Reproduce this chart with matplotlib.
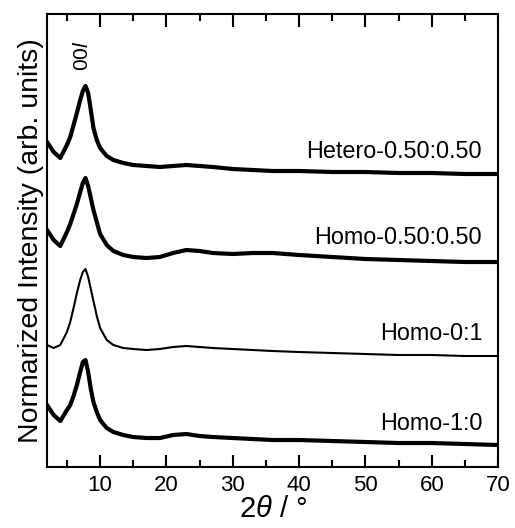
import matplotlib
matplotlib.use("Agg")
import matplotlib.pyplot as plt
from matplotlib.ticker import MultipleLocator

plt.rcParams["font.family"] = ["Liberation Sans", "DejaVu Sans"]
plt.rcParams["mathtext.fontset"] = "custom"
plt.rcParams["mathtext.rm"] = "Liberation Sans"
plt.rcParams["mathtext.it"] = "Liberation Sans:italic"

# 2theta grid (deg) and stacked intensities (arb. units, offsets included)
two_theta = [2, 3, 4, 5, 5.5, 6, 6.5, 7, 7.4, 7.8, 8.2, 8.6, 9, 9.5, 10, 11, 12,
             13.5, 15, 17, 19, 21, 23, 25, 27, 30, 33, 36, 40, 45, 50, 55, 60,
             65, 70]

hetero_050 = [325, 315, 309, 322, 330, 342, 354, 367, 376, 381, 374, 357, 339,
              327, 319, 311, 307, 304, 302, 301, 300, 301, 302, 301, 300, 298,
              297, 296, 296, 295, 295, 294, 294, 293, 293]
homo_050 = [237, 227, 221, 235, 243, 253, 263, 275, 284, 289, 281, 269, 257,
            245, 233, 222, 216, 212, 210, 209, 210, 214, 217, 216, 214, 213,
            214, 214, 212, 210, 208, 207, 206, 205, 205]
homo_01 = [122, 119, 122, 135, 145, 159, 174, 187, 195, 198, 190, 178, 166,
           151, 139, 127, 122, 119, 118, 117, 118, 120, 121, 120, 119, 118,
           117, 116, 115, 114, 113, 112, 112, 111, 111]
homo_10 = [62, 52, 46, 57, 62, 71, 82, 95, 105, 107, 95, 78, 65, 55, 47, 39,
           35, 32, 30, 29, 29, 32, 33, 31, 30, 29, 28, 27, 27, 26, 25, 24, 24,
           23, 22]

labels = ["Hetero-0.50:0.50", "Homo-0.50:0.50", "Homo-0:1", "Homo-1:0"]
series = [hetero_050, homo_050, homo_01, homo_10]
widths = [3.0, 3.0, 1.5, 3.0]
label_y = [315, 230, 134, 44]

fig = plt.figure(figsize=(5.15, 5.28), dpi=100)
ax = fig.add_axes([0.0913, 0.1155, 0.876, 0.858])

for name, ys, lw, ty in zip(labels, series, widths, label_y):
    ax.plot(two_theta, ys, color="black", lw=lw, solid_joinstyle="round")
    ax.text(67.6, ty, name, ha="right", va="center", fontsize=16.8)

ax.text(7.4, 411, "00$\\mathit{l}$", rotation=90, ha="center", va="center",
        fontsize=15)

ax.set_xlim(2, 70)
ax.set_ylim(0, 453)
ax.xaxis.set_major_locator(MultipleLocator(10))
ax.xaxis.set_minor_locator(MultipleLocator(5))
ax.tick_params(axis="x", which="both", direction="in", top=True, labelsize=16,
               width=1.5, pad=6)
ax.tick_params(axis="x", which="major", length=9)
ax.tick_params(axis="x", which="minor", length=5)
ax.set_yticks([])
for s in ax.spines.values():
    s.set_linewidth(1.5)

ax.set_xlabel("$\\mathrm{2}\\mathit{\\theta}$ / °", fontsize=21, labelpad=-1)
ax.set_ylabel("Normarized Intensity (arb. units)", fontsize=20.5, labelpad=2)

fig.savefig("out.png", dpi=100)
